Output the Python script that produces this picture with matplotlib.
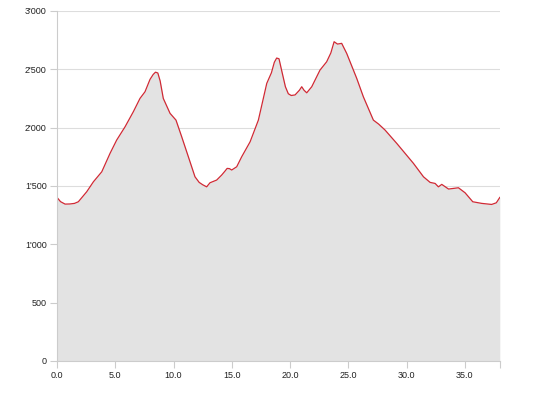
import matplotlib.pyplot as plt
from matplotlib.ticker import FuncFormatter

plt.rcParams['font.family'] = ['Liberation Sans', 'DejaVu Sans']

# distance (km) and elevation (m)
dist = [0.0, 0.3, 0.69, 1.1, 1.5, 1.83, 2.55, 3.12, 3.84, 4.55, 5.12, 5.84, 6.55, 7.12,
        7.55, 7.98, 8.25, 8.45, 8.65, 8.85, 9.12, 9.7, 10.21, 10.7, 11.27, 11.84, 12.2,
        12.5, 12.84, 13.13, 13.7, 14.13, 14.4, 14.6, 14.8, 14.99, 15.42, 15.85, 16.57,
        17.28, 18.0, 18.4, 18.65, 18.85, 19.05, 19.3, 19.6, 19.85, 20.1, 20.43, 20.8, 21.0,
        21.2, 21.43, 21.86, 22.57, 23.14, 23.5, 23.78, 24.07, 24.43, 24.86, 25.72,
        26.29, 27.15, 27.6, 28.15, 29.16, 30.59, 31.45, 32.02, 32.45, 32.73,
        33.02, 33.6, 34.45, 35.02, 35.68, 36.45, 37.3, 37.7, 38.0]
elev = [1401, 1365, 1344, 1345, 1350, 1364, 1450, 1535, 1621, 1779, 1893, 2007, 2136,
        2250, 2307, 2413, 2455, 2475, 2468, 2400, 2250, 2122, 2064, 1921, 1750, 1578,
        1530, 1510, 1492, 1527, 1550, 1593, 1625, 1650, 1648, 1636, 1664, 1750, 1878,
        2064, 2379, 2470, 2560, 2596, 2590, 2480, 2350, 2290, 2275, 2280, 2320, 2350,
        2320, 2298, 2350, 2493, 2564, 2640, 2736, 2716, 2722, 2636, 2422,
        2264, 2064, 2030, 1979, 1864, 1693, 1578, 1530, 1521, 1492,
        1513, 1473, 1484, 1441, 1364, 1350, 1341, 1355, 1401]

y_ticks = [0, 500, 1000, 1500, 2000, 2500, 3000]
x_ticks = [0, 5, 10, 15, 20, 25, 30, 35]

fig = plt.figure(figsize=(5.38, 4.05), dpi=100)
ax = fig.add_axes([0.106, 0.109, 0.823, 0.864])

ax.fill_between(dist, elev, 0, color='#e3e3e3', lw=0)
ax.plot(dist, elev, color='#d02a35', lw=0.9)

ax.set_xlim(0, 38)
ax.set_ylim(0, 3000)
ax.set_yticks(y_ticks)
ax.set_xticks(x_ticks)
ax.set_xticks([38], minor=True)
ax.yaxis.set_major_formatter(FuncFormatter(lambda v, p: f"{int(v):,}".replace(',', "'")))
ax.xaxis.set_major_formatter(FuncFormatter(lambda v, p: f"{v:.1f}"))

ax.grid(axis='y', color='#dddddd', lw=0.8)
ax.set_axisbelow(True)
for s in ['top', 'right']:
    ax.spines[s].set_visible(False)
for s in ['left', 'bottom']:
    ax.spines[s].set_color('#cccccc')
    ax.spines[s].set_linewidth(0.8)
ax.tick_params(axis='both', which='both', colors='#cccccc', labelcolor='#222222',
               labelsize=6.5, length=5, width=0.8, pad=2.5)

fig.savefig('out.png', dpi=100)
